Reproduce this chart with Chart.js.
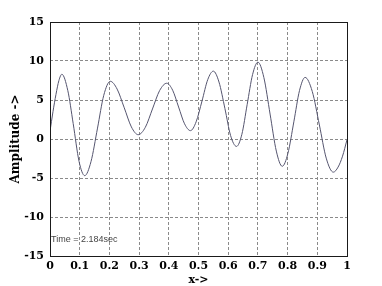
<!DOCTYPE html>
<html>
<head>
<meta charset="utf-8">
<script src="https://cdn.jsdelivr.net/npm/chart.js@4/dist/chart.umd.min.js"></script>
<style>
  html, body { margin: 0; padding: 0; background: #fff; }
  #wrap { width: 382px; height: 286px; position: relative; }
</style>
</head>
<body>
<div id="wrap"><canvas id="c" width="382" height="286"></canvas></div>
<script>
// ---- data ----
const xValues = [
  0.000, 0.010, 0.020, 0.030, 0.040,
  0.060, 0.078, 0.098, 0.117,
  0.138, 0.160, 0.181, 0.203,
  0.226, 0.250, 0.274, 0.297,
  0.321, 0.345, 0.369, 0.393,
  0.413, 0.433, 0.453, 0.473,
  0.492, 0.512, 0.531, 0.550,
  0.569, 0.589, 0.608, 0.628,
  0.646, 0.664, 0.682, 0.700,
  0.720, 0.741, 0.762, 0.782,
  0.801, 0.821, 0.840, 0.859,
  0.883, 0.907, 0.930, 0.954,
  0.970, 0.985, 1.000
];
const amplitude = [
  1.0, 3.5, 5.7, 7.5, 8.3,
  6.2, 2.0, -2.9, -4.7,
  -2.9, 1.4, 5.6, 7.4,
  6.4, 4.0, 1.55, 0.55,
  1.5, 3.85, 6.2, 7.15,
  6.25, 4.1, 1.95, 1.07,
  2.2, 4.9, 7.6, 8.7,
  7.3, 3.9, 0.45, -0.95,
  0.6, 4.45, 8.25, 9.85,
  7.9, 3.2, -1.55, -3.5,
  -1.85, 2.2, 6.2, 7.9,
  6.1, 1.8, -2.45, -4.25,
  -3.6, -2.2, -0.1
];
const xTicks = [0, 0.1, 0.2, 0.3, 0.4, 0.5, 0.6, 0.7, 0.8, 0.9, 1];
const xTickLabels = ['0', '0.1', '0.2', '0.3', '0.4', '0.5', '0.6', '0.7', '0.8', '0.9', '1'];
const yTicks = [-15, -10, -5, 0, 5, 10, 15];
const yTickLabels = ['-15', '-10', '-5', '0', '5', '10', '15'];
const annotationText = 'Time = 2.184sec';
const annotationPos = [0.0, -12.9];

const points = xValues.map((x, i) => ({ x: x, y: amplitude[i] }));

const boxPlugin = {
  id: 'box',
  afterDatasetsDraw(chart) {
    const { ctx, chartArea: a, scales } = chart;
    ctx.save();
    ctx.strokeStyle = '#1a1a1a';
    ctx.lineWidth = 1;
    ctx.strokeRect(Math.round(a.left) + 0.5, Math.round(a.top) + 0.5,
                   Math.round(a.right - a.left), Math.round(a.bottom - a.top));
    ctx.fillStyle = '#444';
    ctx.font = '9px "Liberation Sans", Arial, sans-serif';
    ctx.textBaseline = 'middle';
    ctx.textAlign = 'left';
    ctx.fillText(annotationText, scales.x.getPixelForValue(annotationPos[0]) + 1,
                 scales.y.getPixelForValue(annotationPos[1]));
    ctx.restore();
  }
};

const tickFont = { family: '"DejaVu Serif", serif', weight: 'bold', size: 11 };

new Chart(document.getElementById('c'), {
  type: 'line',
  data: {
    datasets: [{
      data: points,
      borderColor: '#55556f',
      borderWidth: 1,
      pointRadius: 0,
      fill: false,
      cubicInterpolationMode: 'monotone'
    }]
  },
  options: {
    responsive: false,
    animation: false,
    devicePixelRatio: 1,
    layout: { padding: { left: 0, right: 35, top: 22, bottom: 0 } },
    plugins: { legend: { display: false }, tooltip: { enabled: false } },
    scales: {
      x: {
        type: 'linear',
        min: 0, max: 1,
        afterBuildTicks: (s) => { s.ticks = xTicks.map(v => ({ value: v })); },
        afterFit: (s) => { s.height = 30; },
        grid: { color: '#8a8a8a', lineWidth: 1, drawTicks: false },
        border: { display: false, dash: [3, 2] },
        ticks: {
          padding: 4,
          color: '#000',
          font: tickFont,
          maxRotation: 0,
          autoSkip: false,
          callback: (v, i) => xTickLabels[i]
        },
        title: {
          display: true, text: 'x->', color: '#000',
          font: { family: '"DejaVu Serif", serif', weight: 'bold', size: 11, lineHeight: 1 },
          padding: { top: 0, bottom: 0 }
        }
      },
      y: {
        type: 'linear',
        min: -15, max: 15,
        afterBuildTicks: (s) => { s.ticks = yTicks.map(v => ({ value: v })); },
        afterFit: (s) => { s.width = 50; },
        grid: { color: '#8a8a8a', lineWidth: 1, drawTicks: false },
        border: { display: false, dash: [3, 2] },
        ticks: {
          padding: 6,
          color: '#000',
          font: tickFont,
          autoSkip: false,
          callback: (v, i) => yTickLabels[i]
        },
        title: {
          display: true, text: 'Amplitude ->', color: '#000',
          font: { family: '"DejaVu Serif", serif', weight: 'bold', size: 12, lineHeight: 1.2 },
          padding: { top: 9, bottom: 0 }
        }
      }
    }
  },
  plugins: [boxPlugin]
});
</script>
</body>
</html>
